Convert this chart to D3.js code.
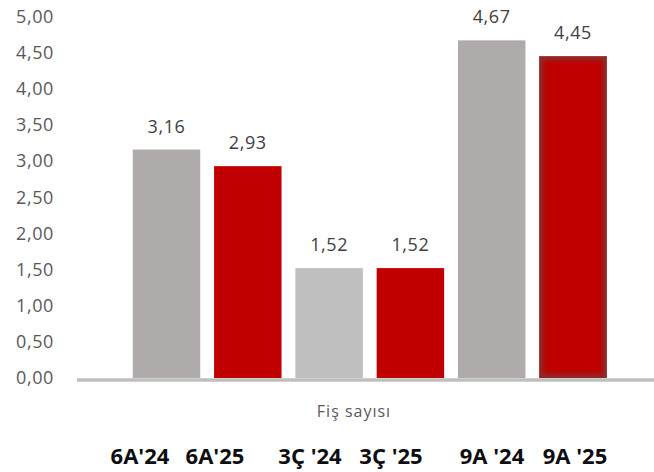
<!DOCTYPE html>
<html>
<head>
<meta charset="utf-8">
<script src="https://cdn.jsdelivr.net/npm/d3@7"></script>
<style>
  html, body { margin: 0; padding: 0; background: #fff; }
  svg { display: block; }
  text { font-family: "Open Sans", sans-serif; }
</style>
</head>
<body>
<svg id="chart" width="654" height="472"></svg>
<script>
// Receipt counts per period
const categories = ["6A'24", "6A'25", "3Ç '24", "3Ç '25", "9A '24", "9A '25"];
const values = [3.16, 2.93, 1.52, 1.52, 4.67, 4.45];
const barColors = ["#AFABAB", "#C00000", "#BFBFBF", "#C00000", "#AFABAB", "#C00000"];
const yTicks = [0, 0.5, 1, 1.5, 2, 2.5, 3, 3.5, 4, 4.5, 5];
const axisTitle = "Fiş sayısı";
const periodLabels = ["6A'24", "6A'25", "3Ç '24", "3Ç '25", "9A '24", "9A '25"];

const W = 654, H = 472;
const svg = d3.select("#chart");
const fmt = v => d3.format(".2f")(v).replace(".", ",");

const y = d3.scaleLinear().domain([0, 5]).range([378, 16.5]);
const x = d3.scaleBand().domain(categories).range([125.85, 613.65])
  .paddingInner(0.17).paddingOuter(0.085);

// soft dark inner edge for the last bar
const defs = svg.append("defs");
defs.append("filter").attr("id", "edgeBlur")
  .attr("x", "-20%").attr("y", "-20%").attr("width", "140%").attr("height", "140%")
  .append("feGaussianBlur").attr("stdDeviation", 2.8);

// y tick labels
svg.append("g").selectAll("text").data(yTicks).join("text")
  .attr("x", 54).attr("y", d => y(d))
  .attr("dy", "0.35em")
  .attr("text-anchor", "end")
  .attr("font-size", 18)
  .attr("letter-spacing", 0.6)
  .attr("fill", "#595959")
  .text(fmt);

// bars
const bars = svg.append("g");
bars.selectAll("rect").data(values).join("rect")
  .attr("x", (d, i) => x(categories[i]))
  .attr("y", d => y(d))
  .attr("width", x.bandwidth())
  .attr("height", d => y(0) - y(d))
  .attr("fill", (d, i) => barColors[i]);

// inner shading on the final bar
const last = values.length - 1;
const lx = x(categories[last]), ly = y(values[last]);
const lw = x.bandwidth(), lh = y(0) - y(values[last]);
defs.append("clipPath").attr("id", "lastClip")
  .append("rect").attr("x", lx).attr("y", ly).attr("width", lw).attr("height", lh);
svg.append("g").attr("clip-path", "url(#lastClip)")
  .append("rect")
  .attr("x", lx).attr("y", ly).attr("width", lw).attr("height", lh)
  .attr("fill", "none")
  .attr("stroke", "#7A3A3A")
  .attr("stroke-opacity", 0.85)
  .attr("stroke-width", 7)
  .attr("filter", "url(#edgeBlur)");

// value labels
svg.append("g").selectAll("text").data(values).join("text")
  .attr("x", (d, i) => x(categories[i]) + x.bandwidth() / 2)
  .attr("y", d => y(d) - 17)
  .attr("text-anchor", "middle")
  .attr("font-size", 18)
  .attr("letter-spacing", 0.6)
  .attr("fill", "#404040")
  .text(fmt);

// baseline
svg.append("line")
  .attr("x1", 77).attr("x2", W)
  .attr("y1", y(0) + 2).attr("y2", y(0) + 2)
  .attr("stroke", "#BFBFBF").attr("stroke-width", 3.5);

// axis title
svg.append("text")
  .attr("x", 354).attr("y", 417)
  .attr("text-anchor", "middle")
  .attr("font-size", 16)
  .attr("letter-spacing", 1)
  .attr("fill", "#595959")
  .text(axisTitle);

// period labels row
const labelX = [140, 215, 310, 391, 492, 575];
svg.append("g").selectAll("text").data(periodLabels).join("text")
  .attr("x", (d, i) => labelX[i])
  .attr("y", 464)
  .attr("text-anchor", "middle")
  .attr("font-size", 22)
  .attr("font-weight", 700)
  .attr("fill", "#0E0E12")
  .text(d => d);
</script>
</body>
</html>
